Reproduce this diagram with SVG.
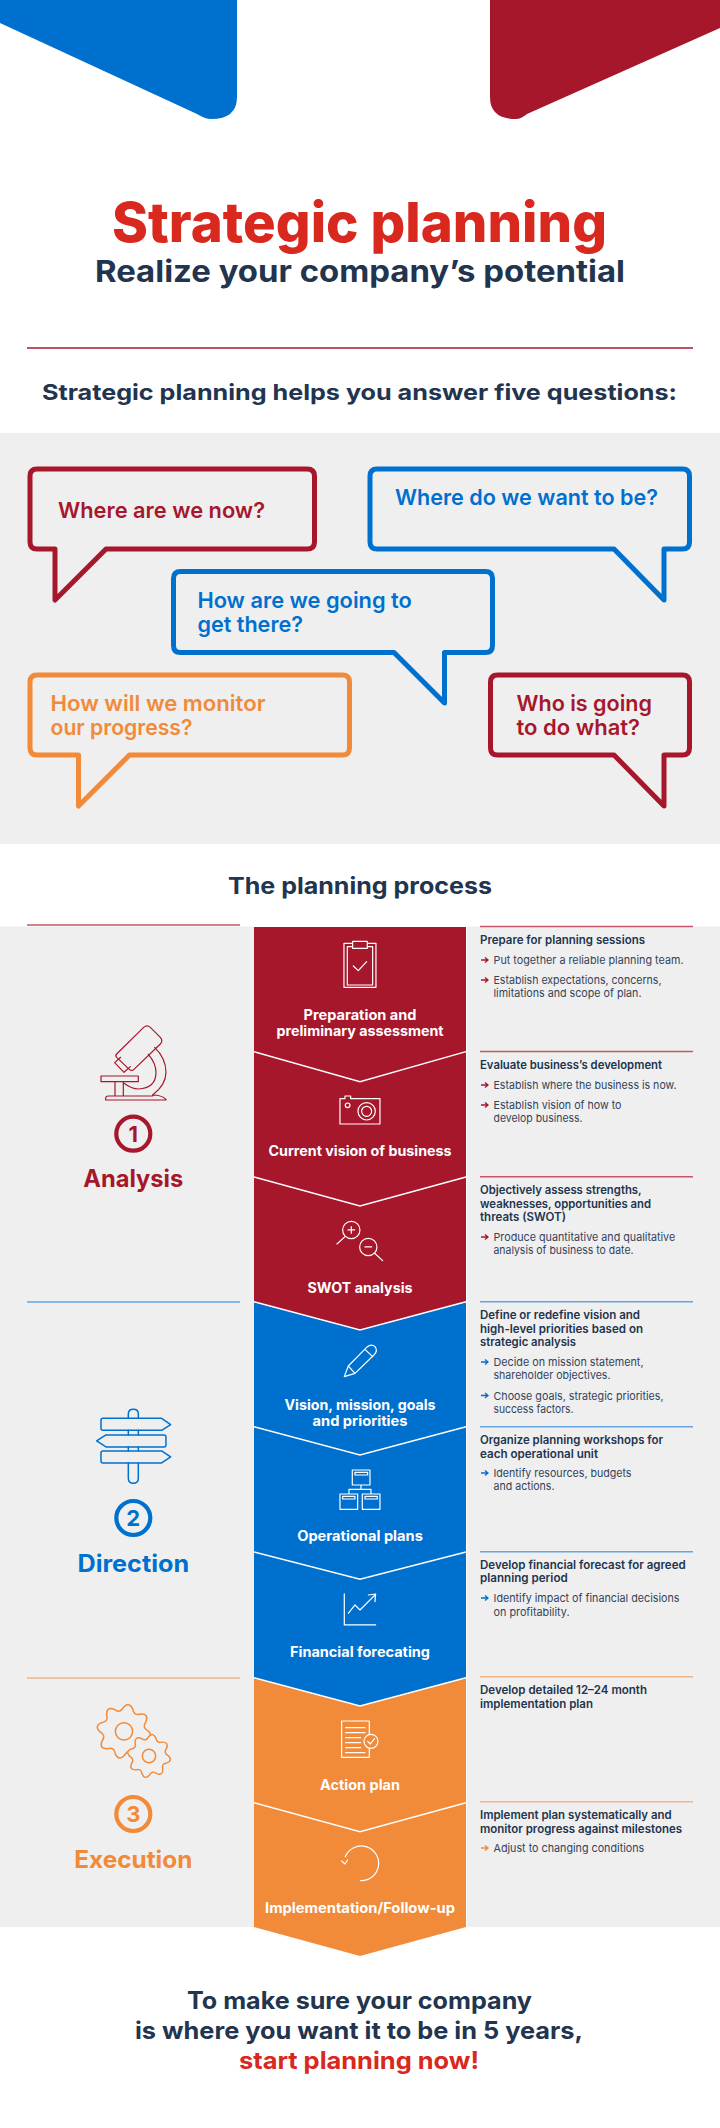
<svg xmlns="http://www.w3.org/2000/svg" xmlns:xlink="http://www.w3.org/1999/xlink" width="720" height="2128" viewBox="0 0 720 2128">
<style>
text{font-family:"Inter","Lato","Liberation Sans",sans-serif;font-weight:700}
.nv{fill:#22344e}
.r{fill:#a6172c}.b{fill:#0070cf}.o{fill:#f18a39}.tr{fill:#d9281e}
.w{fill:#fff;font-size:14px;text-anchor:middle;font-weight:700}
.q{font-size:22px;font-weight:600}
.h{fill:#22344e;font-size:11.500px;font-weight:600}
.t{fill:#33435a;font-size:11px;font-weight:400}
.big{font-size:24px;text-anchor:middle;font-weight:700}
.num{font-size:22px;text-anchor:middle}
.bub{fill:none;stroke-width:5;stroke-linejoin:round}
.sr{stroke:#a6172c}.sb{stroke:#0070cf}.so{stroke:#f18a39}.sw{stroke:#fff}
.ic{fill:none;stroke-width:3.600;stroke-linejoin:round;stroke-linecap:round}
.ln{stroke-width:1.400;fill:none}
.arr{fill:none;stroke-width:1.300}
</style>
<defs>
<path id="a" d="M0 0H7M4 -2.600L7 0L4 2.600"/>
<path id="gear" d="M70.600 -14Q92 0 70.600 14Q49.900 20.700 59.900 40Q65 65 40 59.900Q20.700 49.900 14 70.600Q0 92 -14 70.600Q-20.700 49.900 -40 59.900Q-65 65 -59.900 40Q-49.900 20.700 -70.600 14Q-92 0 -70.600 -14Q-49.900 -20.700 -59.900 -40Q-65 -65 -40 -59.900Q-20.700 -49.900 -14 -70.600Q0 -92 14 -70.600Q20.700 -49.900 40 -59.900Q65 -65 59.900 -40Q49.900 -20.700 70.600 -14Z"/>
</defs>
<rect width="720" height="2128" fill="#fff"/>

<g id="header">
<path class="b" d="M0 0H237V97Q237 119 211 119Q205 119 197 114L0 23Z"/>
<path class="r" d="M490 0H720V28L527 114Q521 119 516 119Q490 119 490 97Z"/>
<text class="tr" x="112" y="242" font-size="55" style="font-weight:800" textLength="495" lengthAdjust="spacingAndGlyphs">Strategic planning</text>
<text class="nv" x="95" y="282" font-size="30" textLength="530" lengthAdjust="spacingAndGlyphs">Realize your company’s potential</text>
<path class="ln sr" d="M27 348H693"/>
<text class="nv" x="42" y="399.500" font-size="22" textLength="635" lengthAdjust="spacingAndGlyphs">Strategic planning helps you answer five questions:</text>
</g>

<rect x="0" y="433" width="720" height="411" fill="#efefef"/>

<g id="bubble-now">
<path class="bub sr" d="M37 469H307Q314.500 469 314.500 476V542Q314.500 549 307 549H106L55 600V549H37Q30 549 30 542V476Q30 469 37 469Z"/>
<text class="q r" x="58" y="517.500" textLength="207" lengthAdjust="spacingAndGlyphs">Where are we now?</text>
</g>
<g id="bubble-want">
<path class="bub sb" d="M377 469H682.500Q689.500 469 689.500 476V542Q689.500 549 682.500 549H664V600L614 549H377Q370 549 370 542V476Q370 469 377 469Z"/>
<text class="q b" x="395" y="505" textLength="263" lengthAdjust="spacingAndGlyphs">Where do we want to be?</text>
</g>
<g id="bubble-how">
<path class="bub sb" d="M180.500 571.500H485.500Q492.500 571.500 492.500 578.500V645.500Q492.500 652.500 485.500 652.500H444.500V703L394 652.500H180.500Q173.500 652.500 173.500 645.500V578.500Q173.500 571.500 180.500 571.500Z"/>
<text class="q b" x="197.400" y="607.700" textLength="214.500" lengthAdjust="spacingAndGlyphs">How are we going to</text>
<text class="q b" x="197.400" y="632" textLength="105.600" lengthAdjust="spacingAndGlyphs">get there?</text>
</g>
<g id="bubble-monitor">
<path class="bub so" d="M37 675H342.500Q349.500 675 349.500 682V748Q349.500 755 342.500 755H129.500L78.500 806V755H37Q30 755 30 748V682Q30 675 37 675Z"/>
<text class="q o" x="50.500" y="711" textLength="215" lengthAdjust="spacingAndGlyphs">How will we monitor</text>
<text class="q o" x="50.500" y="735" textLength="142" lengthAdjust="spacingAndGlyphs">our progress?</text>
</g>
<g id="bubble-who">
<path class="bub sr" d="M497.500 675H682.500Q689.500 675 689.500 682V748Q689.500 755 682.500 755H664V806L614 755H497.500Q490.500 755 490.500 748V682Q490.500 675 497.500 675Z"/>
<text class="q r" x="516.500" y="711" textLength="135.500" lengthAdjust="spacingAndGlyphs">Who is going</text>
<text class="q r" x="516.500" y="735" textLength="123.500" lengthAdjust="spacingAndGlyphs">to do what?</text>
</g>

<text id="process-title" class="nv" x="228" y="894" font-size="23" textLength="264" lengthAdjust="spacingAndGlyphs">The planning process</text>

<rect x="0" y="926.500" width="254" height="1000.500" fill="#efefef"/>
<rect x="467" y="926.500" width="253" height="1000.500" fill="#efefef"/>

<g id="column-shapes">
<path class="o" d="M254 1678L360 1706L466 1678V1927L360 1956L254 1927Z"/>
<path class="b" d="M254 1302L360 1330L466 1302V1678L360 1706L254 1678Z"/>
<path class="r" d="M254 927H466V1302L360 1330L254 1302Z"/>
<g class="ln sw">
<path d="M254 1051.700L360 1081.700L466 1051.700"/>
<path d="M254 1177L360 1206L466 1177"/>
<path d="M254 1301.700L360 1330L466 1301.700"/>
<path d="M254 1426.700L360 1455L466 1426.700"/>
<path d="M254 1552L360 1579.300L466 1552"/>
<path d="M254 1677.700L360 1706L466 1677.700"/>
<path d="M254 1802.700L360 1831.700L466 1802.700"/>
</g>
</g>

<g id="rules">
<path class="ln" stroke="#c4586a" d="M27 925H240M480 926.500H693M480 1051.500H693M480 1176.700H693"/>
<path class="ln" stroke="#66a5e0" d="M27 1302H240M480 1301.700H693M480 1426.700H693M480 1551.700H693"/>
<path class="ln" stroke="#f1b487" d="M27 1678H240M480 1676.700H693M480 1801.700H693"/>
</g>

<g id="phase-analysis">
<g class="ic sr" transform="translate(0 910) scale(.3333)">
<path d="M350 432L431 352Q441 343 451 352L481 382Q490 392 481 402L402 478Q395 485 388 478L350 442Q345 437 350 432Z"/>
<path d="M362 442L344 458L372 487L391 470"/>
<path d="M464 412Q498 445 498 487Q498 525 458 555"/>
<path d="M445 433Q468 460 468 487Q468 535 415 537Q395 537 372 520"/>
<path d="M303 498H415V515H303ZM345 515V558M370 515V558M458 555Q485 555 498 568V570H317V565Q317 558 325 558H458Z"/>
</g>
<circle cx="133.300" cy="1133.700" r="17" fill="none" stroke="#a6172c" stroke-width="4.200"/>
<text class="num r" x="133.300" y="1141.700">1</text>
<text class="big r" x="133.300" y="1187" textLength="100" lengthAdjust="spacingAndGlyphs">Analysis</text>
</g>

<g id="phase-direction">
<g class="ic sb" transform="translate(0 1290) scale(.3333)" style="stroke-width:4.500">
<path d="M385 385V372Q385 358 400 358Q415 358 415 372V385M385 421V435M415 421V435M385 471V483M415 471V483M385 519V565Q385 580 400 580Q415 580 415 565V519"/>
<path d="M309 385H485L512 404L485 421H309Q303 421 303 415V391Q303 385 309 385Z"/>
<path d="M492 435H318L290 453L318 471H492Q498 471 498 465V441Q498 435 492 435Z"/>
<path d="M309 483H485L512 501L485 519H309Q303 519 303 513V489Q303 483 309 483Z"/>
</g>
<circle cx="133.300" cy="1518" r="17" fill="none" stroke="#0070cf" stroke-width="4.200"/>
<text class="num b" x="133.300" y="1525.700">2</text>
<text class="big b" x="133.300" y="1571.700" textLength="111.700" lengthAdjust="spacingAndGlyphs">Direction</text>
</g>

<g id="phase-execution">
<g class="ic so" transform="translate(0 1660) scale(.3333)" style="stroke-width:4.500">
<use href="#gear" transform="translate(372 214) rotate(10)" fill="#efefef"/>
<circle cx="372" cy="214" r="26"/>
<use href="#gear" transform="translate(447 288) rotate(10) scale(.8)" fill="#efefef" stroke-width="5.500" style="stroke-width:5.500"/>
<circle cx="447" cy="288" r="20"/>
</g>
<circle cx="133.300" cy="1814" r="17" fill="none" stroke="#f18a39" stroke-width="4.200"/>
<text class="num o" x="133.300" y="1821.700">3</text>
<text class="big o" x="133.300" y="1867.700" textLength="118" lengthAdjust="spacingAndGlyphs">Execution</text>
</g>

<g id="stage-preparation">
<g class="ic sw" transform="translate(0 910) scale(.3333)">
<path d="M1058 100H1032V232H1128V100H1102M1058 110H1042V225H1118V110H1102M1058 94H1102V115H1058ZM1060 168L1075 182L1100 155"/>
</g>
<text class="w" x="360" y="1020" textLength="113" lengthAdjust="spacingAndGlyphs">Preparation and</text>
<text class="w" x="360" y="1036" textLength="167" lengthAdjust="spacingAndGlyphs">preliminary assessment</text>
<text class="h" x="480" y="944" textLength="165" lengthAdjust="spacingAndGlyphs">Prepare for planning sessions</text>
<use href="#a" x="481" y="960" class="arr sr"/>
<text class="t" x="493.500" y="964" textLength="190" lengthAdjust="spacingAndGlyphs">Put together a reliable planning team.</text>
<use href="#a" x="481" y="980" class="arr sr"/>
<text class="t" x="493.500" y="984" textLength="168" lengthAdjust="spacingAndGlyphs">Establish expectations, concerns,</text>
<text class="t" x="493.500" y="997.300" textLength="148" lengthAdjust="spacingAndGlyphs">limitations and scope of plan.</text>
</g>

<g id="stage-vision">
<g class="ic sw" transform="translate(0 910) scale(.3333)">
<path d="M1020 566H1035V558H1052V566H1140V642H1020Z"/>
<circle cx="1043" cy="586" r="7"/><circle cx="1100" cy="604" r="26"/><circle cx="1100" cy="604" r="15"/>
</g>
<text class="w" x="360" y="1156" textLength="183" lengthAdjust="spacingAndGlyphs">Current vision of business</text>
<text class="h" x="480" y="1069" textLength="182" lengthAdjust="spacingAndGlyphs">Evaluate business’s development</text>
<use href="#a" x="481" y="1085" class="arr sr"/>
<text class="t" x="493.500" y="1089" textLength="183" lengthAdjust="spacingAndGlyphs">Establish where the business is now.</text>
<use href="#a" x="481" y="1105" class="arr sr"/>
<text class="t" x="493.500" y="1109" textLength="128" lengthAdjust="spacingAndGlyphs">Establish vision of how to</text>
<text class="t" x="493.500" y="1122.300" textLength="89" lengthAdjust="spacingAndGlyphs">develop business.</text>
</g>

<g id="stage-swot">
<g class="ic sw" transform="translate(0 910) scale(.3333)">
<circle cx="1054" cy="960" r="26"/><circle cx="1105" cy="1011" r="26"/>
<path d="M1035 980L1011 1002M1124 1030L1148 1052M1044 960H1064M1054 950V970M1095 1011H1115"/>
</g>
<text class="w" x="360" y="1292.700" textLength="105" lengthAdjust="spacingAndGlyphs">SWOT analysis</text>
<text class="h" x="480" y="1194" textLength="161.700" lengthAdjust="spacingAndGlyphs">Objectively assess strengths,</text>
<text class="h" x="480" y="1207.700" textLength="171" lengthAdjust="spacingAndGlyphs">weaknesses, opportunities and</text>
<text class="h" x="480" y="1221" textLength="86" lengthAdjust="spacingAndGlyphs">threats (SWOT)</text>
<use href="#a" x="481" y="1237" class="arr sr"/>
<text class="t" x="493.500" y="1240.700" textLength="181.700" lengthAdjust="spacingAndGlyphs">Produce quantitative and qualitative</text>
<text class="t" x="493.500" y="1254" textLength="140" lengthAdjust="spacingAndGlyphs">analysis of business to date.</text>
</g>

<g id="stage-mission">
<g class="ic sw" transform="translate(0 1290) scale(.3333)">
<path d="M1033 260L1045 228L1100 172Q1115 160 1125 170Q1135 182 1122 195L1065 250ZM1045 228L1065 250M1095 178L1118 200"/>
</g>
<text class="w" x="360" y="1410" textLength="151" lengthAdjust="spacingAndGlyphs">Vision, mission, goals</text>
<text class="w" x="360" y="1426" textLength="95" lengthAdjust="spacingAndGlyphs">and priorities</text>
<text class="h" x="480" y="1319.300" textLength="160" lengthAdjust="spacingAndGlyphs">Define or redefine vision and</text>
<text class="h" x="480" y="1332.700" textLength="163" lengthAdjust="spacingAndGlyphs">high-level priorities based on</text>
<text class="h" x="480" y="1346" textLength="96" lengthAdjust="spacingAndGlyphs">strategic analysis</text>
<use href="#a" x="481" y="1362" class="arr sb"/>
<text class="t" x="493.500" y="1366" textLength="150" lengthAdjust="spacingAndGlyphs">Decide on mission statement,</text>
<text class="t" x="493.500" y="1379.300" textLength="117" lengthAdjust="spacingAndGlyphs">shareholder objectives.</text>
<use href="#a" x="481" y="1395.500" class="arr sb"/>
<text class="t" x="493.500" y="1399.700" textLength="170" lengthAdjust="spacingAndGlyphs">Choose goals, strategic priorities,</text>
<text class="t" x="493.500" y="1413" textLength="80" lengthAdjust="spacingAndGlyphs">success factors.</text>
</g>

<g id="stage-operational">
<g class="ic sw" transform="translate(0 1290) scale(.3333)">
<path d="M1057 540H1110V585H1057ZM1065 547H1103V555H1065ZM1083 585V598M1047 612V598H1113V612M1020 612H1073V658H1020ZM1028 619H1065V627H1028ZM1087 612H1140V658H1087ZM1095 619H1132V627H1095Z"/>
</g>
<text class="w" x="360" y="1540.700" textLength="125.700" lengthAdjust="spacingAndGlyphs">Operational plans</text>
<text class="h" x="480" y="1444" textLength="183" lengthAdjust="spacingAndGlyphs">Organize planning workshops for</text>
<text class="h" x="480" y="1457.700" textLength="118" lengthAdjust="spacingAndGlyphs">each operational unit</text>
<use href="#a" x="481" y="1473" class="arr sb"/>
<text class="t" x="493.500" y="1477" textLength="138" lengthAdjust="spacingAndGlyphs">Identify resources, budgets</text>
<text class="t" x="493.500" y="1490.300" textLength="61" lengthAdjust="spacingAndGlyphs">and actions.</text>
</g>

<g id="stage-forecast">
<g class="ic sw" transform="translate(0 1290) scale(.3333)">
<path d="M1033 912V1005H1127M1045 970L1065 945L1080 960L1125 915M1105 915L1127 912L1125 935"/>
</g>
<text class="w" x="360" y="1656.700" textLength="140" lengthAdjust="spacingAndGlyphs">Financial forecating</text>
<text class="h" x="480" y="1569" textLength="205.700" lengthAdjust="spacingAndGlyphs">Develop financial forecast for agreed</text>
<text class="h" x="480" y="1582.300" textLength="87.700" lengthAdjust="spacingAndGlyphs">planning period</text>
<use href="#a" x="481" y="1598" class="arr sb"/>
<text class="t" x="493.500" y="1602.300" textLength="186" lengthAdjust="spacingAndGlyphs">Identify impact of financial decisions</text>
<text class="t" x="493.500" y="1615.700" textLength="76" lengthAdjust="spacingAndGlyphs">on profitability.</text>
</g>

<g id="stage-action">
<g class="ic sw" transform="translate(0 1660) scale(.3333)">
<path d="M1025 183H1108V292H1025ZM1037 203H1095M1037 218H1095M1037 233H1082M1037 248H1082M1037 263H1082M1037 278H1095"/>
<circle cx="1113" cy="244" r="21" fill="#f18a39"/>
<path d="M1103 244L1111 252L1124 236"/>
</g>
<text class="w" x="360" y="1789.700" textLength="80" lengthAdjust="spacingAndGlyphs">Action plan</text>
<text class="h" x="480" y="1694.300" textLength="167" lengthAdjust="spacingAndGlyphs">Develop detailed 12–24 month</text>
<text class="h" x="480" y="1707.700" textLength="113" lengthAdjust="spacingAndGlyphs">implementation plan</text>
</g>

<g id="stage-implementation">
<g class="ic sw" transform="translate(0 1660) scale(.3333)">
<path d="M1036 590A52 52 0 1 1 1082 662M1025 603L1035 612L1043 600"/>
</g>
<text class="w" x="360" y="1913" textLength="190" lengthAdjust="spacingAndGlyphs">Implementation/Follow-up</text>
<text class="h" x="480" y="1819.300" textLength="191.700" lengthAdjust="spacingAndGlyphs">Implement plan systematically and</text>
<text class="h" x="480" y="1832.700" textLength="202" lengthAdjust="spacingAndGlyphs">monitor progress against milestones</text>
<use href="#a" x="481" y="1848" class="arr so"/>
<text class="t" x="493.500" y="1852" textLength="150.700" lengthAdjust="spacingAndGlyphs">Adjust to changing conditions</text>
</g>

<g id="closing">
<text class="nv" x="187" y="2009" font-size="24" textLength="345" lengthAdjust="spacingAndGlyphs">To make sure your company</text>
<text class="nv" x="135" y="2039.300" font-size="24" textLength="448" lengthAdjust="spacingAndGlyphs">is where you want it to be in 5 years,</text>
<text class="tr" x="239" y="2069.300" font-size="24" textLength="240" lengthAdjust="spacingAndGlyphs">start planning now!</text>
</g>
</svg>
